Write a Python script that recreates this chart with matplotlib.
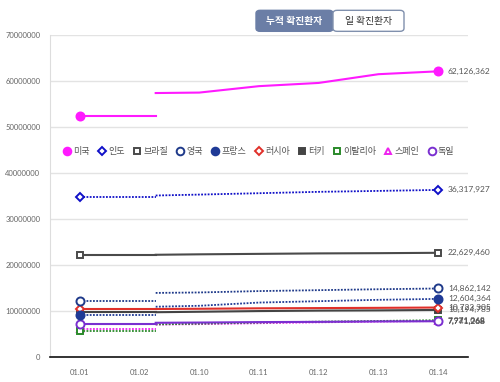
import numpy as np
import matplotlib
matplotlib.use("Agg")
import matplotlib.pyplot as plt
from matplotlib.lines import Line2D
from matplotlib.patches import FancyBboxPatch

plt.rcParams['font.family'] = ['Lato', 'Noto Sans CJK KR', 'DejaVu Sans']

# categories and data (millions)
dates = ['01.01', '01.02', '01.10', '01.11', '01.12', '01.13', '01.14']
countries = ['미국', '인도', '브라질', '영국', '프랑스', '러시아', '터키', '이탈리아', '스페인', '독일']

# first segment (01.01 ~ 01.02)
seg1 = {
    '미국': 52.4, '인도': 34.7, '브라질': 22.1, '영국': 12.2, '프랑스': 9.2,
    '러시아': 10.4, '터키': 9.7, '이탈리아': 5.7, '스페인': 6.0, '독일': 7.2,
}
# second segment (after the break, then 01.10 ~ 01.14)
us = [57.4, 57.5, 58.9, 59.6, 61.5, 62.126362]
india = [35.1, 35.3, 35.6, 35.9, 36.1, 36.317927]
brazil = [22.2, 22.3, 22.4, 22.5, 22.55, 22.629460]
uk = [13.9, 14.0, 14.3, 14.5, 14.7, 14.862142]
france = [10.9, 11.1, 11.8, 12.1, 12.4, 12.604364]
russia = [10.4, 10.45, 10.55, 10.6, 10.65, 10.723305]
turkey = [9.7, 9.8, 9.95, 10.05, 10.1, 10.194785]
italy = [7.05, 7.2, 7.45, 7.65, 7.8, 7.971068]
spain = [7.0, 7.1, 7.3, 7.5, 7.65, 7.771268]
germany = [7.4, 7.45, 7.55, 7.6, 7.7, 7.741268]
seg2 = {'미국': us, '인도': india, '브라질': brazil, '영국': uk, '프랑스': france,
        '러시아': russia, '터키': turkey, '이탈리아': italy, '스페인': spain, '독일': germany}

# styles: color, linestyle, marker, filled
dot = (0, (1, 0.8))
styles = {
    '미국': ('#ff1aff', '-', 'o', True),
    '인도': ('#1010c8', dot, 'D', False),
    '브라질': ('#4a4a4a', '-', 's', False),
    '영국': ('#1f3a8a', dot, 'o', False),
    '프랑스': ('#1f3a96', dot, 'o', True),
    '러시아': ('#e0302a', '-', 'D', False),
    '터키': ('#444444', '-', 's', True),
    '이탈리아': ('#2a8a2a', dot, 's', False),
    '스페인': ('#ee22ee', dot, '^', False),
    '독일': ('#7a2fd0', '-', 'o', False),
}
msize = {'o': 5.8, 'D': 4.0, 's': 4.2, '^': 5.0}

BREAK = 1.27
x = np.arange(len(dates))

fig = plt.figure(figsize=(5, 3.82), dpi=100)
ax = fig.add_axes([0.1, 0.066, 0.836, 0.842])

order = ['스페인', '이탈리아', '독일', '터키', '러시아', '프랑스', '영국', '브라질', '인도', '미국']
for c in order:
    col, ls, mk, filled = styles[c]
    lw = 1.5 if ls == '-' else 1.3
    v1 = seg1[c]
    ax.plot([x[0], x[1], BREAK], [v1 * 1e6] * 3, color=col, ls=ls, lw=lw, zorder=2)
    xs2 = [BREAK] + list(x[2:])
    ax.plot(xs2, np.array(seg2[c]) * 1e6, color=col, ls=ls, lw=lw, zorder=2)
    fc = col if filled else 'white'
    for xi, yi in [(x[0], v1), (x[-1], seg2[c][-1])]:
        ax.plot([xi], [yi * 1e6], marker=mk, ms=msize[mk], mfc=fc, mec=col, mew=1.4, zorder=4)
    ax.annotate(f"{int(round(seg2[c][-1] * 1e6)):,}", (x[-1], seg2[c][-1] * 1e6),
                xytext=(7, 0), textcoords='offset points', va='center', ha='left',
                fontsize=6, color='#555555', annotation_clip=False)

ax.set_xlim(-0.5, 6.5)
ax.set_ylim(0, 70000000)
ax.set_xticks(x)
ax.set_xticklabels(dates)
ax.set_yticks(np.arange(0, 70000001, 10000000))
ax.set_yticklabels([str(v) for v in range(0, 70000001, 10000000)])
ax.tick_params(axis='both', labelsize=5.5, colors='#666666', length=0, pad=9)
ax.tick_params(axis='y', pad=7)
ax.grid(axis='y', color='#e3e3e3', lw=1)
ax.set_axisbelow(True)
for s in ['top', 'right']:
    ax.spines[s].set_visible(False)
ax.spines['left'].set_color('#dddddd')
ax.spines['bottom'].set_color('#111111')
ax.spines['bottom'].set_linewidth(1.2)

# legend
handles = []
for c in countries:
    col, ls, mk, filled = styles[c]
    handles.append(Line2D([], [], ls='none', marker=mk, ms=msize[mk] * 0.95,
                          mfc=col if filled else 'white', mec=col, mew=1.4, label=c))
leg = ax.legend(handles=handles, ncol=10, loc='center', bbox_to_anchor=(0.5, 0.637),
                frameon=False, fontsize=6.5, handlelength=0.8, handletextpad=0.3,
                columnspacing=0.95, labelcolor='#555555')

# toggle buttons
b1 = FancyBboxPatch((0.512, 0.918), 0.154, 0.055, boxstyle='round,pad=0,rounding_size=0.008',
                    transform=fig.transFigure, fc='#6b7ea6', ec='#6b7ea6', lw=1)
b2 = FancyBboxPatch((0.666, 0.918), 0.142, 0.055, boxstyle='round,pad=0,rounding_size=0.008',
                    transform=fig.transFigure, fc='white', ec='#8090ad', lw=1)
fig.patches.extend([b1, b2])
fig.text(0.589, 0.9455, '누적 확진환자', ha='center', va='center', fontsize=7,
         color='white', weight='bold', family=['Noto Sans CJK KR'])
fig.text(0.737, 0.9455, '일 확진환자', ha='center', va='center', fontsize=7,
         color='#333333', family=['Noto Sans CJK KR'])

fig.savefig('out.png', dpi=100)
